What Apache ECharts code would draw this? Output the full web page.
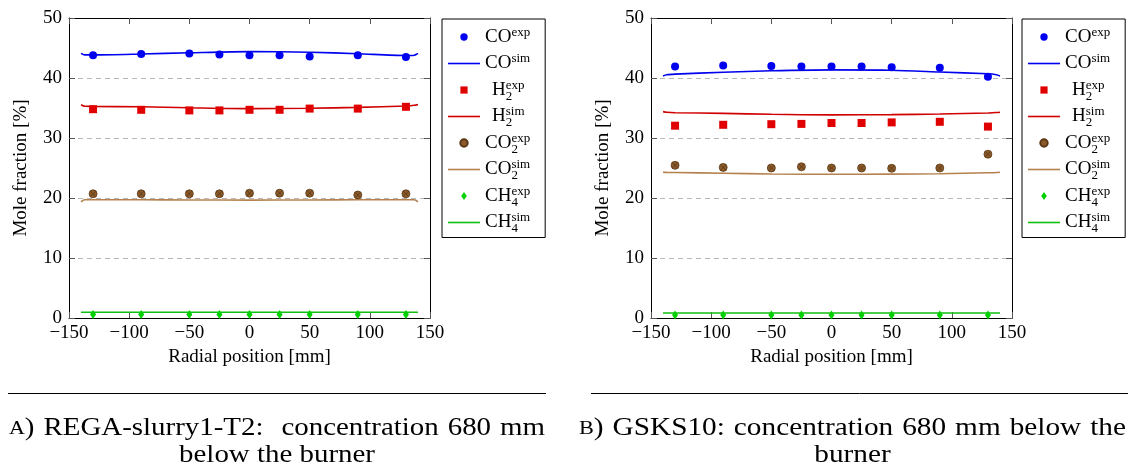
<!DOCTYPE html>
<html>
<head>
<meta charset="utf-8">
<title>Radial mole fractions</title>
<script src="https://cdn.jsdelivr.net/npm/echarts@6/dist/echarts.min.js"></script>
<style>
  html, body { margin: 0; padding: 0; background: #fff; }
  #chart { width: 1128px; height: 472px; }
</style>
</head>
<body>
<div id="chart"></div>
<script>
// Radial positions [mm]
const radialExp = [-130, -90, -50, -25, 0, 25, 50, 90, 130];
const radialSim = [-140, -137, -130, -90, -50, 0, 50, 90, 130, 137, 140];

// Axis ticks
const xTicks = [-150, -100, -50, 0, 50, 100, 150];
const yTicks = [0, 10, 20, 30, 40, 50];

// Panel A: REGA-slurry1-T2, 680 mm below the burner (mole fraction %)
const coExpA  = [43.8, 44.0, 44.1, 43.9, 43.8, 43.8, 43.6, 43.8, 43.5];
const h2ExpA  = [34.8, 34.7, 34.6, 34.6, 34.7, 34.7, 34.9, 34.9, 35.2];
const co2ExpA = [20.7, 20.7, 20.7, 20.7, 20.8, 20.8, 20.8, 20.5, 20.7];
const ch4ExpA = [0.6, 0.6, 0.6, 0.6, 0.6, 0.6, 0.6, 0.6, 0.6];
const coSimA  = [44.1, 43.85, 43.85, 44.0, 44.2, 44.4, 44.3, 44.05, 43.75, 43.8, 44.1];
const h2SimA  = [35.55, 35.3, 35.27, 35.2, 35.05, 34.9, 34.95, 35.1, 35.33, 35.45, 35.6];
const co2SimA = [19.35, 19.72, 19.72, 19.7, 19.67, 19.65, 19.67, 19.7, 19.72, 19.72, 19.35];
const ch4SimA = [0.95, 0.95, 0.95, 0.95, 0.95, 0.95, 0.95, 0.95, 0.95, 0.95, 0.95];

// Panel B: GSKS10, 680 mm below the burner (mole fraction %)
const coExpB  = [41.9, 42.1, 42.0, 41.9, 41.9, 41.9, 41.8, 41.7, 40.2];
const h2ExpB  = [32.05, 32.2, 32.3, 32.35, 32.5, 32.5, 32.6, 32.7, 31.9];
const co2ExpB = [25.45, 25.1, 25.0, 25.2, 25.0, 25.0, 24.95, 25.0, 27.3];
const ch4ExpB = [0.5, 0.5, 0.5, 0.5, 0.5, 0.5, 0.5, 0.5, 0.5];
const coSimB  = [40.35, 40.55, 40.65, 40.95, 41.2, 41.35, 41.3, 41.0, 40.7, 40.55, 40.35];
const h2SimB  = [34.4, 34.3, 34.22, 34.1, 33.95, 33.85, 33.9, 34.0, 34.17, 34.25, 34.3];
const co2SimB = [24.3, 24.27, 24.25, 24.12, 24.0, 23.95, 23.98, 24.05, 24.2, 24.26, 24.3];
const ch4SimB = [0.83, 0.83, 0.83, 0.83, 0.83, 0.83, 0.83, 0.83, 0.83, 0.83, 0.83];

// Captions: first line set full width, second line centred ('' marks a wide space)
const captionA1 = ['A)', 'REGA-slurry1-T2:', '', 'concentration', '680', 'mm'];
const captionA2 = 'below the burner';
const captionB1 = ['B)', 'GSKS10:', 'concentration', '680', 'mm', 'below', 'the'];
const captionB2 = 'burner';

const seriesNames = ['CO_exp', 'CO_sim', 'H2_exp', 'H2_sim', 'CO2_exp', 'CO2_sim', 'CH4_exp', 'CH4_sim'];
const legendLabels = {
  CO_exp:  '{m|CO}{sup|exp}',
  CO_sim:  '{m|CO}{sup|sim}',
  H2_exp:  '{sp| }{m|H}{sub|2}{sup|exp}',
  H2_sim:  '{sp| }{m|H}{sub|2}{sup|sim}',
  CO2_exp: '{m|CO}{sub|2}{sup|exp}',
  CO2_sim: '{m|CO}{sub|2}{sup|sim}',
  CH4_exp: '{m|CH}{sub|4}{sup|exp}',
  CH4_sim: '{m|CH}{sub|4}{sup|sim}'
};

// legend icons inside a 32x8 box (the leading moves pin the box size)
const BOX = 'path://M0,0M32,8';
const legendIcons = {
  circle:  BOX + 'M16,0.3A3.7,3.7 0 1 1 16,7.7A3.7,3.7 0 1 1 16,0.3Z',
  square:  BOX + 'M12.4,0.4H19.6V7.6H12.4Z',
  diamond: BOX + 'M16,0L18.8,4L16,8L13.2,4Z',
  line:    BOX + 'M0,3.2H32V4.8H0Z'
};
const legendIconOf = {
  CO_exp: 'circle', CO_sim: 'line', H2_exp: 'square', H2_sim: 'line',
  CO2_exp: 'circle', CO2_sim: 'line', CH4_exp: 'diamond', CH4_sim: 'line'
};

const FONT = '"Liberation Serif", "DejaVu Serif", serif';
const COL = {
  co: '#0000f0',
  h2: '#e00000', h2Line: '#d00000',
  co2: '#8b5a2b', co2Edge: '#5a3815', co2Line: '#b5824f',
  ch4: '#00d000', ch4Line: '#10c010'
};
// circle with an inscribed cross
const OTIMES = 'path://M0,5A5,5 0 1 1 10,5A5,5 0 1 1 0,5ZM1.5,1.5L8.5,8.5M8.5,1.5L1.5,8.5';

const pairs = (xs, ys) => xs.map((x, i) => [x, ys[i]]);

function panelSeries(p, d) {
  const ax = { xAxisIndex: p * 2, yAxisIndex: p * 2 };
  const simLine = (name, ys, color) => ({
    type: 'line', name, ...ax, data: pairs(radialSim, ys),
    symbol: 'none', showSymbol: false, smooth: 0.25, z: 2,
    lineStyle: { color, width: 1.6 }, itemStyle: { color }
  });
  const expPts = (name, ys, symbol, size, itemStyle) => ({
    type: 'scatter', name, ...ax, data: pairs(radialExp, ys),
    symbol, symbolSize: size, z: 3, itemStyle: { opacity: 1, ...itemStyle }
  });
  return [
    expPts('CO_exp', d.coExp, 'circle', 8, { color: COL.co }),
    simLine('CO_sim', d.coSim, COL.co),
    expPts('H2_exp', d.h2Exp, 'rect', 8, { color: COL.h2 }),
    simLine('H2_sim', d.h2Sim, COL.h2Line),
    expPts('CO2_exp', d.co2Exp, OTIMES, 8, { color: COL.co2, borderColor: COL.co2Edge, borderWidth: 0.8 }),
    simLine('CO2_sim', d.co2Sim, COL.co2Line),
    expPts('CH4_exp', d.ch4Exp, 'diamond', [6, 9], { color: COL.ch4 }),
    simLine('CH4_sim', d.ch4Sim, COL.ch4Line)
  ];
}

const minusFmt = v => (v < 0 ? '\u2212' + Math.abs(v) : String(v));

function xAxes(grid) {
  const base = {
    gridIndex: grid, type: 'value', min: xTicks[0], max: xTicks[xTicks.length - 1],
    interval: xTicks[1] - xTicks[0],
    axisLine: { show: true, onZero: false, lineStyle: { color: '#000', width: 1 } },
    axisTick: { show: true, inside: true, length: 6, lineStyle: { color: '#555' } },
    splitLine: { show: false }
  };
  return [
    { ...base, position: 'bottom',
      axisLabel: { color: '#000', fontFamily: FONT, fontSize: 19, margin: 6, formatter: minusFmt },
      name: 'Radial position [mm]', nameLocation: 'middle', nameGap: 30,
      nameTextStyle: { color: '#000', fontFamily: FONT, fontSize: 19 } },
    { ...base, position: 'top', axisLabel: { show: false } }
  ];
}

function yAxes(grid) {
  const base = {
    gridIndex: grid, type: 'value', min: yTicks[0], max: yTicks[yTicks.length - 1],
    interval: yTicks[1] - yTicks[0],
    axisLine: { show: true, onZero: false, lineStyle: { color: '#000', width: 1 } },
    axisTick: { show: true, inside: true, length: 6, lineStyle: { color: '#555' } }
  };
  return [
    { ...base, position: 'left',
      axisLabel: { color: '#000', fontFamily: FONT, fontSize: 19, margin: 7 },
      splitLine: { show: true, lineStyle: { color: '#b8b8b8', type: [5, 4], width: 1 } },
      name: 'Mole fraction [%]', nameLocation: 'middle', nameGap: 38,
      nameTextStyle: { color: '#000', fontFamily: FONT, fontSize: 19 } },
    { ...base, position: 'right', axisLabel: { show: false }, splitLine: { show: false } }
  ];
}

function legendAt(left) {
  return {
    orient: 'vertical', left, top: 19,
    data: seriesNames.map(name => ({ name, icon: legendIcons[legendIconOf[name]] })),
    selectedMode: false, symbolKeepAspect: true,
    itemWidth: 32, itemHeight: 8, itemGap: 0.5,
    padding: [5, 15, 2, 5],
    borderColor: '#000', borderWidth: 1, backgroundColor: '#fff',
    formatter: n => legendLabels[n],
    textStyle: {
      color: '#000', fontFamily: FONT, fontSize: 19, lineHeight: 26,
      rich: {
        m:   { color: '#000', fontFamily: FONT, fontSize: 19, lineHeight: 26 },
        sup: { color: '#000', fontFamily: FONT, fontSize: 13, lineHeight: 13, verticalAlign: 'top', padding: [2, 0, 0, 0] },
        sub: { color: '#000', fontFamily: FONT, fontSize: 13, lineHeight: 13, verticalAlign: 'bottom', width: 0 },
        sp:  { fontSize: 10, width: 7 }
      }
    }
  };
}

// caption layout: words keep a fixed gap, glyphs are widened to fill the line
const measureCtx = document.createElement('canvas').getContext('2d');
function textWidth(s, size) {
  measureCtx.font = size + 'px ' + FONT;
  return measureCtx.measureText(s).width;
}
const CAP_SIZE = 25, SC_SIZE = 19, WORD_GAP = 9;
const isTag = w => /^[A-Z]\)$/.test(w);
function wordWidth(w) {
  if (isTag(w)) return textWidth(w[0], SC_SIZE) + textWidth(')', CAP_SIZE);
  return textWidth(w, CAP_SIZE);
}
function captionBlock(words, second, x0, x1, y, lineStep) {
  const widths = words.map(wordWidth);
  const total = widths.reduce((a, b) => a + b, 0);
  const gapCount = words.length - 1;
  const scale = (x1 - x0 - gapCount * WORD_GAP) / total;
  const els = [];
  let x = x0;
  words.forEach((w, i) => {
    if (w) {
      els.push({
        type: 'text', x, y, scaleX: scale, silent: true,
        style: isTag(w)
          ? { text: '{sc|' + w[0] + '}{n|)}', verticalAlign: 'middle', fill: '#000',
              rich: { sc: { fontFamily: FONT, fontSize: SC_SIZE, fill: '#000', verticalAlign: 'bottom', lineHeight: 22, padding: [0, 0, 3, 0] },
                      n: { fontFamily: FONT, fontSize: CAP_SIZE, fill: '#000', lineHeight: 28 } } }
          : { text: w, font: CAP_SIZE + 'px ' + FONT, fill: '#000', verticalAlign: 'middle' }
      });
    }
    x += widths[i] * scale + WORD_GAP;
  });
  els.push({
    type: 'text', x: (x0 + x1) / 2, y: y + lineStep, scaleX: scale, silent: true,
    style: { text: second, font: CAP_SIZE + 'px ' + FONT, fill: '#000', align: 'center', verticalAlign: 'middle' }
  });
  return els;
}
function rule(x0, x1, y) {
  return { type: 'line', silent: true, shape: { x1: x0, y1: y, x2: x1, y2: y },
    style: { stroke: '#000', lineWidth: 1 } };
}

const chart = echarts.init(document.getElementById('chart'), null, { renderer: 'canvas' });
chart.setOption({
  animation: false,
  backgroundColor: '#fff',
  grid: [
    { left: 69, right: 698, top: 18, bottom: 154, show: false },
    { left: 651, right: 116, top: 18, bottom: 154, show: false }
  ],
  xAxis: [...xAxes(0), ...xAxes(1)],
  yAxis: [...yAxes(0), ...yAxes(1)],
  legend: [legendAt(442), legendAt(1022)],
  series: [
    ...panelSeries(0, { coExp: coExpA, h2Exp: h2ExpA, co2Exp: co2ExpA, ch4Exp: ch4ExpA,
                        coSim: coSimA, h2Sim: h2SimA, co2Sim: co2SimA, ch4Sim: ch4SimA }),
    ...panelSeries(1, { coExp: coExpB, h2Exp: h2ExpB, co2Exp: co2ExpB, ch4Exp: ch4ExpB,
                        coSim: coSimB, h2Sim: h2SimB, co2Sim: co2SimB, ch4Sim: ch4SimB })
  ],
  graphic: [
    rule(8, 546, 393.5),
    rule(591, 1128, 393.5),
    ...captionBlock(captionA1, captionA2, 9, 545, 428, 27),
    ...captionBlock(captionB1, captionB2, 579, 1126, 428, 27)
  ]
});
</script>
</body>
</html>
